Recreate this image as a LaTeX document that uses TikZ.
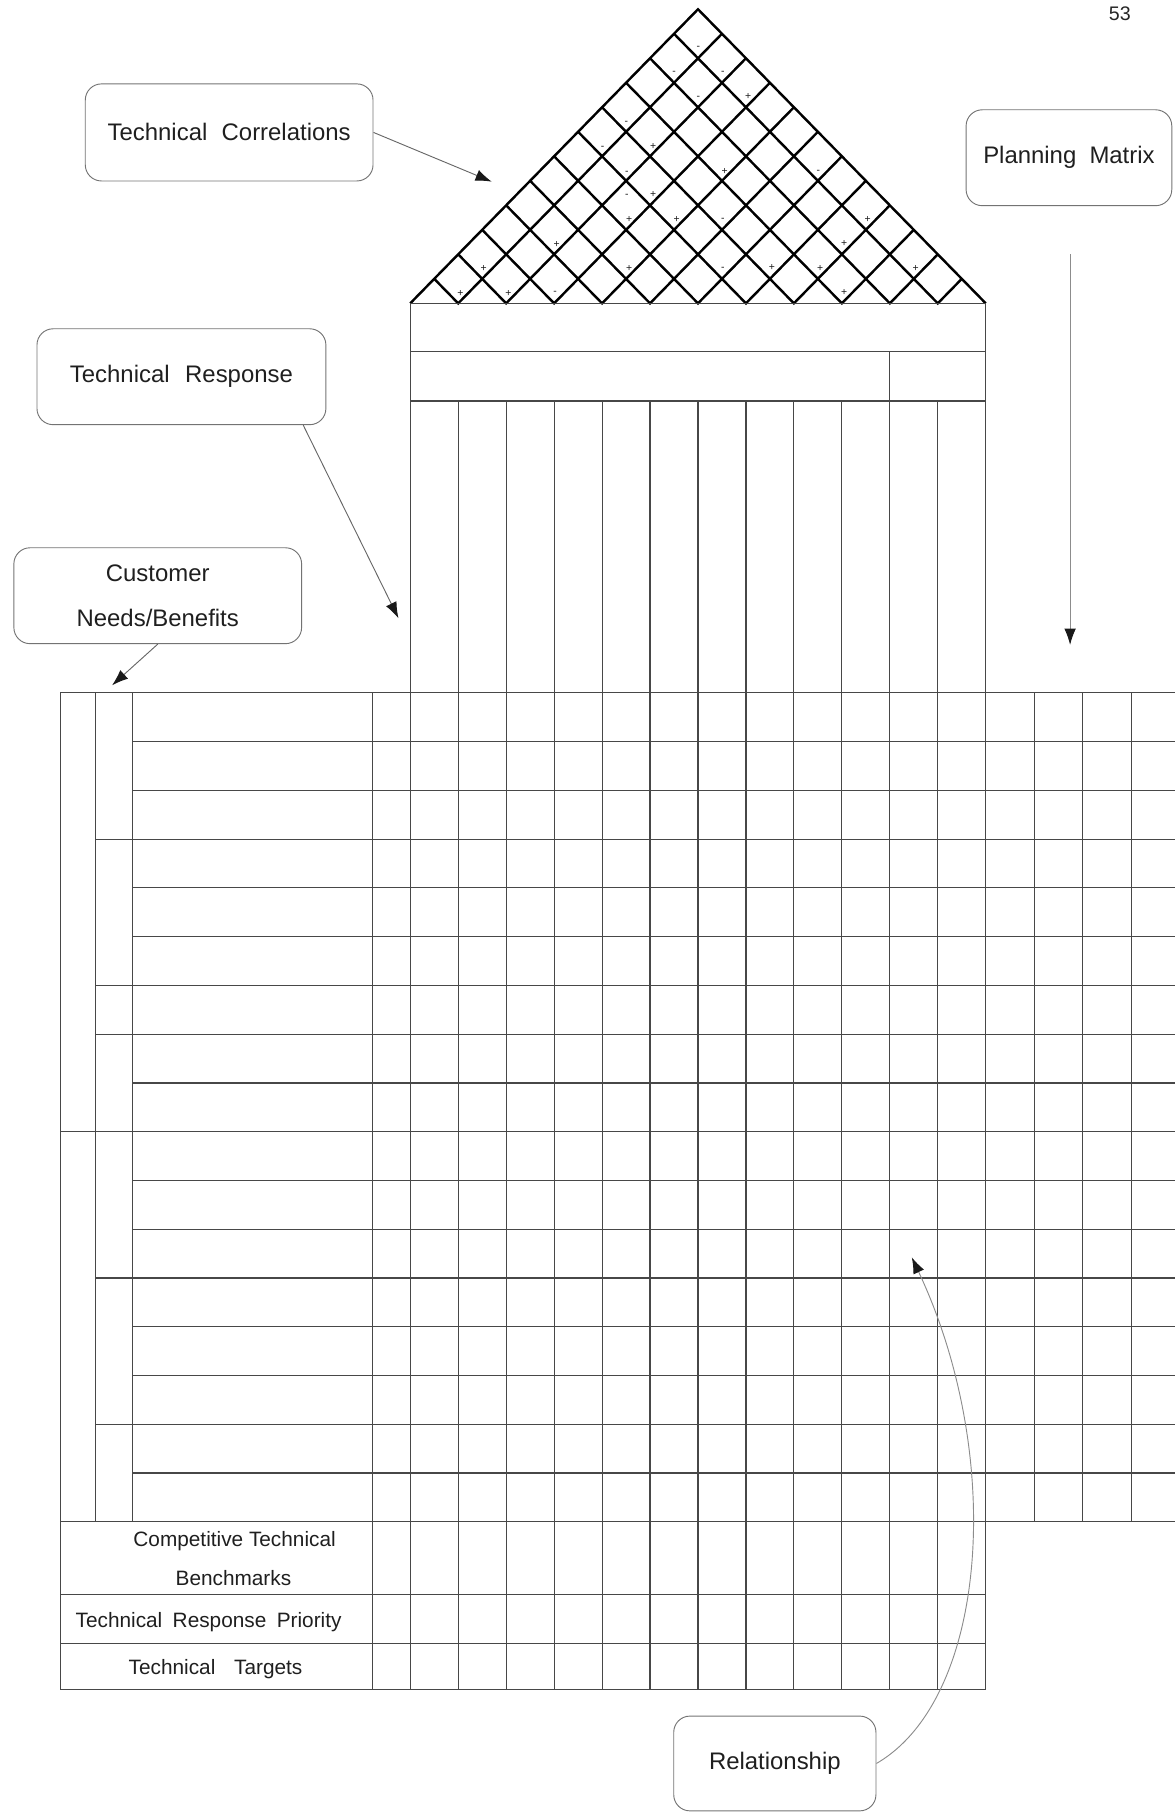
\documentclass[tikz,border=0pt]{standalone}
\usepackage{fontspec}
\setmainfont{Liberation Sans}
\usetikzlibrary{calc,arrows.meta}
\begin{document}
\begin{tikzpicture}[x=1pt,y=-1pt,
  gridline/.style={draw=black!72,line width=1pt},
  roofline/.style={draw=black,line width=2.1pt},
  callout/.style={draw=black!55,line width=0.8pt,rounded corners=14pt,inner sep=0pt,
    align=center,font=\fontsize{20.7}{38.8}\selectfont,text=black!88},
  pointer/.style={draw=black!60,line width=0.8pt,-{Latex[length=14pt,width=10pt,color=black!90]}},
  sign/.style={font=\fontsize{9}{9}\selectfont,inner sep=0pt,text=black!90},
  rowlabel/.style={font=\fontsize{18}{20}\selectfont,inner sep=0pt,anchor=base,text=black!88}]

\useasboundingbox (0,0) rectangle (1017,1568);

% ---------- roof (technical correlations) ----------
\coordinate (L) at (355,262.5);
\coordinate (R) at (853,262.5);
\coordinate (A) at (604,8);
\foreach \k in {1,...,11}{
  \draw[roofline] ($(L)!{\k/12}!(A)$) -- ($(L)!{\k/12}!(R)$) -- ($(R)!{(12-\k)/12}!(A)$);
}
\draw[roofline,line join=miter] (L) -- (A) -- (R);
\draw[gridline] (L) -- (R);

\foreach \x/\y/\s [count=\i] in {
  604.4/41.8/-, 583.3/62.9/-, 625.5/62.9/-, 604.4/85.1/-, 647.4/83.7/+,
  542.1/106.7/-, 521.5/127.8/-, 565.2/126.4/+, 542.4/149.5/-, 627.0/148.0/+,
  708.2/148.6/-, 542.4/169.6/-, 565.2/168.3/+, 544.4/189.7/+, 585.5/189.7/+,
  625.5/190.4/-, 750.8/189.7/+, 481.6/211.2/+, 730.5/210.6/+, 418.6/232.0/+,
  544.4/232.2/+, 625.5/232.6/-, 668.0/231.5/+, 709.8/232.0/+, 792.4/232.0/+,
  398.4/253.6/+, 439.9/253.6/+, 480.3/253.9/-, 730.5/252.7/+}
  \node[sign] (sg\i) at (\x,\y) {\s};

% ---------- bands under the roof ----------
\draw[gridline] (355,262.5) rectangle (853,347);
\draw[gridline] (355,304.5) -- (853,304.5);
\draw[gridline] (770,304.5) -- (770,347);

% ---------- technical response columns ----------
\foreach \k in {0,...,12}
  \draw[gridline] ({355+41.5*\k},347) -- ({355+41.5*\k},1462);

% ---------- main matrix ----------
\draw[gridline] (52,599.5) -- (1017,599.5);
\draw[gridline] (52,1316.9) -- (1017,1316.9);
\foreach \k/\s in {1/115,2/115,3/83,4/115,5/115,6/83,7/83,8/115,9/52,10/115,
                   11/115,12/83,13/115,14/115,15/83,16/115}
  \draw[gridline] (\s,{599.5+42.2*\k}) -- (1017,{599.5+42.2*\k});
\draw[gridline] (52,599.5) -- (52,1462);
\draw[gridline] (83,599.5) -- (83,1316.9);
\draw[gridline] (115,599.5) -- (115,1316.9);
\draw[gridline] (322,599.5) -- (322,1462);
\foreach \x in {895,937,979}
  \draw[gridline] (\x,599.5) -- (\x,1316.9);
\draw[gridline] (52,1380) -- (853,1380);
\draw[gridline] (52,1422) -- (853,1422);
\draw[gridline] (52,1462) -- (853,1462);

% ---------- row labels ----------
\node[rowlabel] (ctb1) at (203,1338.6) {Competitive Technical};
\node[rowlabel] (ctb2) at (202,1371.8) {Benchmarks};
\node[rowlabel] (trp) at (180.5,1407.9) {Technical\hspace{0.5em}Response\hspace{0.5em}Priority};
\node[rowlabel] (tt) at (186.5,1448.9) {Technical\hspace{0.9em}Targets};

% ---------- page number ----------
\node[font=\fontsize{17}{17}\selectfont,inner sep=0pt,anchor=base,text=black!85] (pg) at (969,18) {53};

% ---------- callouts ----------
\node[callout,minimum width=249pt,minimum height=84pt] (tc) at (198.3,114.6)
  {Technical\hspace{0.6em}Correlations};
\node[callout,minimum width=250pt,minimum height=83pt] (tr) at (157,326)
  {Technical\hspace{0.65em}Response};
\node[callout,minimum width=249pt,minimum height=83pt] (cn) at (136.5,515.5)
  {Customer\\Needs/Benefits};
\node[callout,minimum width=178pt,minimum height=83pt] (pm) at (925,136.5)
  {Planning\hspace{0.55em}Matrix};
\node[callout,minimum width=175pt,minimum height=82pt] (rel) at (670.5,1526)
  {Relationship};

% ---------- pointers ----------
\coordinate (tcTip) at (425.5,157.2);
\coordinate (trTip) at (344.8,535);
\coordinate (cnTip) at (97,593);
\coordinate (pmTop) at (926,220);
\coordinate (pmTip) at (926,558);
\coordinate (relTip) at (789,1088);

\draw[pointer] (tc.east) -- (tcTip);
\draw[pointer] ($(tr.south east)+(-20,0)$) -- (trTip);
\draw[pointer] (cn.south) -- (cnTip);
\draw[pointer,draw=black!45] (pmTop) -- (pmTip);
\draw[pointer,draw=black!45] (rel.east) .. controls (855,1470) and (870,1260) .. (relTip);

\end{tikzpicture}
\end{document}
